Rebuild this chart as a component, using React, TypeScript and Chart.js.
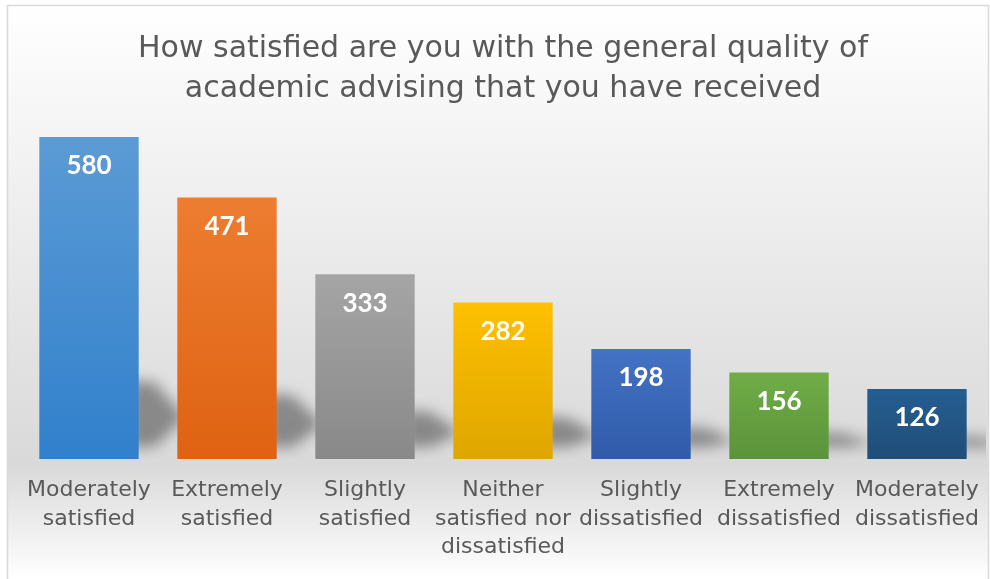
import React, { useEffect, useRef } from "react";
import { Chart, registerables } from "chart.js";

Chart.register(...registerables);

const titleLines = [
  "How satisfied are you with the general quality of",
  "academic advising that you have received",
];
const categories: string[][] = [
  ["Moderately", "satisfied"],
  ["Extremely", "satisfied"],
  ["Slightly", "satisfied"],
  ["Neither", "satisfied nor", "dissatisfied"],
  ["Slightly", "dissatisfied"],
  ["Extremely", "dissatisfied"],
  ["Moderately", "dissatisfied"],
];
const counts = [580, 471, 333, 282, 198, 156, 126];
const topColors = ["#5b9bd5", "#ed7d31", "#a5a5a5", "#ffc000", "#4472c4", "#70ad47", "#255e91"];
const bottomColors = ["#3180cc", "#df6212", "#898989", "#dea600", "#2f5ba9", "#5b933a", "#1f4e79"];

const FONT = "'DejaVu Sans', sans-serif";

const bgPlugin = {
  id: "bgPlugin",
  beforeDraw(chart: any) {
    const { ctx, width, height } = chart;
    ctx.save();
    const g = ctx.createLinearGradient(0, 5, 0, height);
    g.addColorStop(0, "#ffffff");
    g.addColorStop(0.8, "#d9d9d9");
    g.addColorStop(1, "#ffffff");
    ctx.fillStyle = g;
    ctx.fillRect(7, 5, width - 8, height - 5);
    ctx.strokeStyle = "#d9d9d9";
    ctx.lineWidth = 1.5;
    ctx.strokeRect(7.5, 5.5, width - 9, height);
    ctx.restore();
  },
  beforeDatasetsDraw(chart: any) {
    const { ctx } = chart;
    const meta = chart.getDatasetMeta(0);
    const area = chart.chartArea;
    ctx.save();
    ctx.beginPath();
    ctx.rect(area.left, 0, area.right - area.left, area.bottom);
    ctx.clip();
    ctx.filter = "blur(7px)";
    ctx.fillStyle = "rgba(0,0,0,0.38)";
    meta.data.forEach((bar: any) => {
      const xr = bar.x + bar.width / 2;
      const base = bar.base;
      const h = base - bar.y;
      const topS = base - 0.22 * h - 8;
      const botS = base - 12;
      const mid = (topS + botS) / 2 + 4;
      ctx.beginPath();
      ctx.moveTo(xr - 10, topS);
      ctx.lineTo(xr + 16, topS + 2);
      ctx.lineTo(xr + 46, mid);
      ctx.lineTo(xr + 16, botS);
      ctx.lineTo(xr - 10, botS);
      ctx.closePath();
      ctx.fill();
    });
    ctx.restore();
  },
  afterDatasetsDraw(chart: any) {
    const { ctx } = chart;
    const meta = chart.getDatasetMeta(0);
    ctx.save();
    ctx.fillStyle = "#ffffff";
    ctx.font = "bold 26px Lato, sans-serif";
    ctx.textAlign = "center";
    ctx.textBaseline = "middle";
    meta.data.forEach((bar: any, i: number) => {
      ctx.fillText(String(counts[i]), bar.x, bar.y + 29);
    });
    ctx.restore();
  },
};

export default function App() {
  const ref = useRef<HTMLCanvasElement | null>(null);
  useEffect(() => {
    if (!ref.current) return;
    const chart = new Chart(ref.current, {
      type: "bar",
      data: {
        labels: categories,
        datasets: [
          {
            data: counts,
            backgroundColor: (c: any) => {
              const ch = c.chart;
              const i = c.dataIndex;
              if (!ch.chartArea || i === undefined) return topColors[i ?? 0];
              const y = ch.scales.y;
              const top = y.getPixelForValue(counts[i]);
              const bot = y.getPixelForValue(0);
              const g = ch.ctx.createLinearGradient(0, top, 0, bot);
              g.addColorStop(0, topColors[i]);
              g.addColorStop(1, bottomColors[i]);
              return g;
            },
            borderWidth: 0,
            barPercentage: 0.72,
            categoryPercentage: 1,
          },
        ],
      },
      options: {
        responsive: false,
        animation: false,
        layout: { padding: { left: 20, right: 4, top: 0, bottom: 0 } },
        plugins: {
          legend: { display: false },
          tooltip: { enabled: false },
          title: {
            display: true,
            text: titleLines,
            color: "#595959",
            font: { family: FONT, size: 30, weight: "normal", lineHeight: 1.333 },
            padding: { top: 29, bottom: 17 },
          },
        },
        scales: {
          x: {
            grid: { display: false, drawTicks: false },
            border: { display: false },
            afterFit: (scale: any) => {
              scale.height = 120;
              scale.paddingLeft = 0;
              scale.paddingRight = 0;
            },
            ticks: {
              color: "#595959",
              font: { family: FONT, size: 22, lineHeight: 1.3 },
              padding: 17,
              autoSkip: false,
              maxRotation: 0,
              minRotation: 0,
            },
          },
          y: {
            display: false,
            min: 0,
            max: 600,
          },
        },
      },
      plugins: [bgPlugin],
    });
    return () => chart.destroy();
  }, []);
  return (
    <div style={{ position: "fixed", left: 0, top: 0, width: 990, height: 579 }}>
      <canvas ref={ref} width={990} height={579} style={{ width: 990, height: 579 }} />
    </div>
  );
}
